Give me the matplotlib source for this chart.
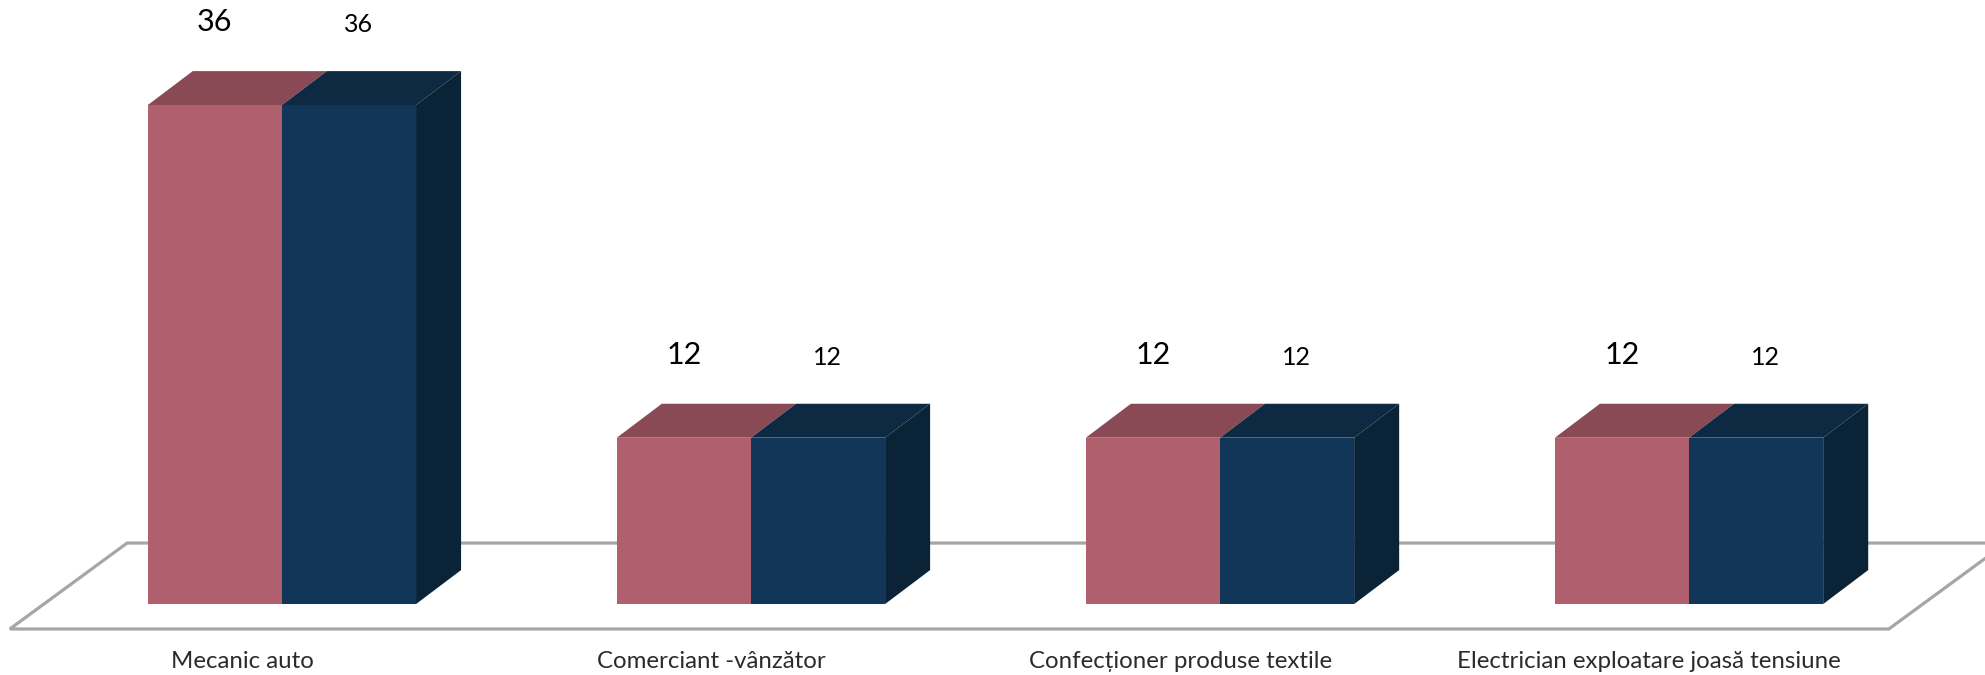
import matplotlib.pyplot as plt
from matplotlib.patches import Polygon

categories = ['Mecanic auto', 'Comerciant -vânzător', 'Confecționer produse textile',
              'Electrician exploatare joasă tensiune']
series_a = [36, 12, 12, 12]
series_b = [36, 12, 12, 12]

pink_front, pink_top = '#B0606C', '#8A4A55'
blue_front, blue_top, blue_side = '#113657', '#0E2A43', '#0A2337'
floor_color = '#A6A6A6'

bar_w = 0.286      # width of one bar, in group units
dx, dy = 0.096, 2.45   # depth offset of the 3d effect (x units, value units)

fig = plt.figure(figsize=(19.85, 6.75), dpi=100)
ax = fig.add_axes([0, 0, 1, 1])
ax.set_xlim(-0.601, 3.631)
ax.set_ylim(-5.12, 43.58)
ax.axis('off')

# floor
floor = Polygon([(-0.580, -1.8), (-0.330, 4.4), (3.676, 4.4), (3.426, -1.8)],
                closed=True, facecolor='white', edgecolor=floor_color, linewidth=2.3, zorder=1)
ax.add_patch(floor)


def box(x0, h, front, top, side=None):
    x1 = x0 + bar_w
    ax.fill([x0, x1, x1, x0], [0, 0, h, h], color=front, zorder=3, lw=0)
    ax.fill([x0, x1, x1 + dx, x0 + dx], [h, h, h + dy, h + dy], color=top, zorder=3, lw=0)
    if side:
        ax.fill([x1, x1 + dx, x1 + dx, x1], [0, dy, h + dy, h], color=side, zorder=3, lw=0)


for i, cat in enumerate(categories):
    xa = i - bar_w
    xb = i
    box(xa, series_a[i], pink_front, pink_top)
    box(xb, series_b[i], blue_front, blue_top, blue_side)
    ax.text(xa + bar_w / 2, series_a[i] + 6.0, str(series_a[i]), ha='center', va='center',
            fontsize=22, family=['Lato', 'DejaVu Sans'], color='black')
    ax.text(xb + bar_w / 2 + 0.02, series_b[i] + 5.8, str(series_b[i]), ha='center', va='center',
            fontsize=18, family=['Lato', 'DejaVu Sans'], color='black')
    ax.text(i - 0.085, -4.62, cat, ha='center', va='baseline', fontsize=17.3,
            family=['Lato', 'DejaVu Sans'], color='#2b2b2b')

plt.savefig('out.png', dpi=100)
